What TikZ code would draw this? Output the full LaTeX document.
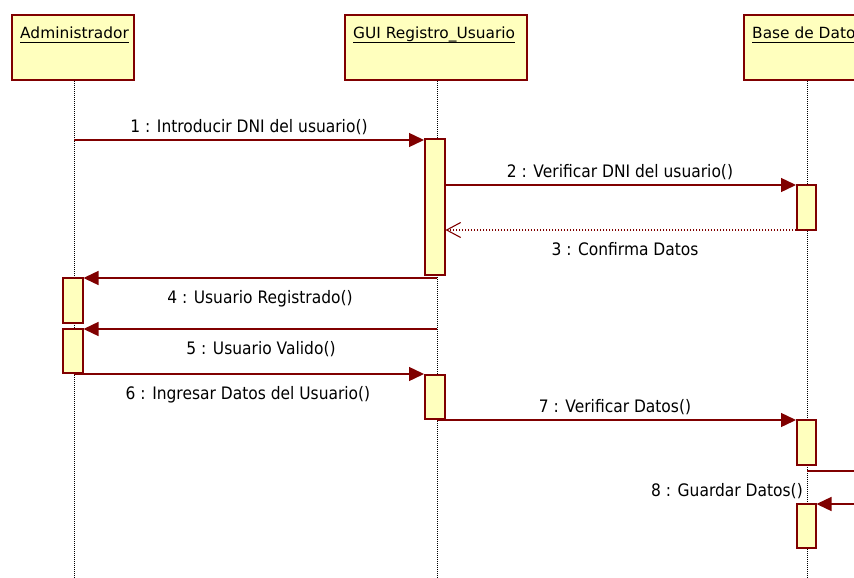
\documentclass[tikz,border=0pt]{standalone}
\usepackage{fontspec}
\setmainfont{DejaVu Sans}
\newfontfamily\msgfont[FakeStretch=0.9]{DejaVu Sans}
\usetikzlibrary{arrows.meta}
\definecolor{umlred}{RGB}{128,0,0}
\definecolor{umlfill}{RGB}{255,255,190}

\begin{document}
\begin{tikzpicture}[x=1pt,y=-1pt,
  objbox/.style={draw=umlred, fill=umlfill, line width=1.8pt, anchor=north west,
                 inner sep=0pt, minimum height=65pt},
  actbox/.style={draw=umlred, fill=umlfill, line width=1.5pt, anchor=north west,
                 inner sep=0pt, minimum width=20pt},
  lifeline/.style={black, line width=0.9pt, dash pattern=on 1pt off 1pt},
  hdr/.style={anchor=base west, inner sep=0pt, font=\fontsize{15.4}{18}\selectfont},
  uline/.style={black, line width=0.9pt},
  msg/.style={umlred, line width=1.4pt, -{Triangle[length=15pt,width=14pt]}},
  ret/.style={umlred, line width=1.1pt, dash pattern=on 1.5pt off 1.5pt,
              -{Straight Barb[length=14pt,width=15pt,line width=1.1pt]}},
  lbl/.style={anchor=base, inner sep=0pt, font=\msgfont\fontsize{17.2}{20}\selectfont}
]
\useasboundingbox (0,0) rectangle (854,578);
\fill[white] (0,0) rectangle (854,578);
\clip (0,0) rectangle (854,578);

% object headers
\node[objbox, minimum width=122pt] (admin) at (11,14) {};
\node[objbox, minimum width=182pt] (gui) at (344,14) {};
\node[objbox, minimum width=128pt] (bd) at (743,14) {};

\node[hdr] (adminT) at (20,38.5) {Administrador};
\node[hdr] (guiT) at (353,38.5) {GUI Registro\_Usuario};
\node[hdr] (bdT) at (752,38.5) {Base de Datos};
\draw[uline] ([yshift=-4pt]adminT.base west) -- ([yshift=-4pt]adminT.base east);
\draw[uline] ([yshift=-4pt]guiT.base west) -- ([yshift=-4pt]guiT.base east);
\draw[uline] ([yshift=-4pt]bdT.base west) -- ([yshift=-4pt]bdT.base east);

% lifelines
\coordinate (adminEnd) at (74,578);
\coordinate (guiEnd) at (437,578);
\coordinate (bdEnd) at (807,578);
\draw[lifeline] (admin.south -| adminEnd) -- (adminEnd);
\draw[lifeline] (gui.south -| guiEnd) -- (guiEnd);
\draw[lifeline] (bd.south -| bdEnd) -- (bdEnd);

% activations
\node[actbox, minimum height=136pt] (g1) at (424,138) {};
\node[actbox, minimum width=19pt, minimum height=45pt] (b1) at (796,184) {};
\node[actbox, minimum height=45pt] (a1) at (62,277) {};
\node[actbox, minimum height=44pt] (a2) at (62,328) {};
\node[actbox, minimum height=44pt] (g2) at (424,374) {};
\node[actbox, minimum width=19pt, minimum height=45pt] (b2) at (796,419) {};
\node[actbox, minimum width=19pt, minimum height=44pt] (b3) at (796,503) {};

% message rows
\coordinate (m1) at (0,140);
\coordinate (m2) at (0,185);
\coordinate (m3) at (0,230);
\coordinate (m4) at (0,278);
\coordinate (m5) at (0,329);
\coordinate (m6) at (0,374);
\coordinate (m7) at (0,420);
\coordinate (m8a) at (0,471);
\coordinate (m8b) at (0,504);
\coordinate (loopR) at (900,0);

\draw[msg] (m1 -| adminEnd) -- (m1 -| g1.west);
\draw[msg] (m2 -| g1.east) -- (m2 -| b1.west);
\draw[ret] (m3 -| b1.west) -- (m3 -| g1.east);
\draw[msg] (m4 -| guiEnd) -- (m4 -| a1.east);
\draw[msg] (m5 -| guiEnd) -- (m5 -| a2.east);
\draw[msg] (m6 -| adminEnd) -- (m6 -| g2.west);
\draw[msg] (m7 -| guiEnd) -- (m7 -| b2.west);
\draw[msg] (m8a -| bdEnd) -- (m8a -| loopR) -- (m8b -| loopR) -- (m8b -| b3.east);

% message labels
\node[lbl] (l1) at (249,132) {1 : Introducir DNI del usuario()};
\node[lbl] (l2) at (620,177) {2 : Verificar DNI del usuario()};
\node[lbl] (l3) at (625,255) {3 : Confirma Datos};
\node[lbl] (l4) at (260,303) {4 : Usuario Registrado()};
\node[lbl] (l5) at (261,354) {5 : Usuario Valido()};
\node[lbl] (l6) at (248,399) {6 : Ingresar Datos del Usuario()};
\node[lbl] (l7) at (615,412) {7 : Verificar Datos()};
\node[lbl, anchor=base east] (l8) at (803,496) {8 : Guardar Datos()};
\end{tikzpicture}
\end{document}
